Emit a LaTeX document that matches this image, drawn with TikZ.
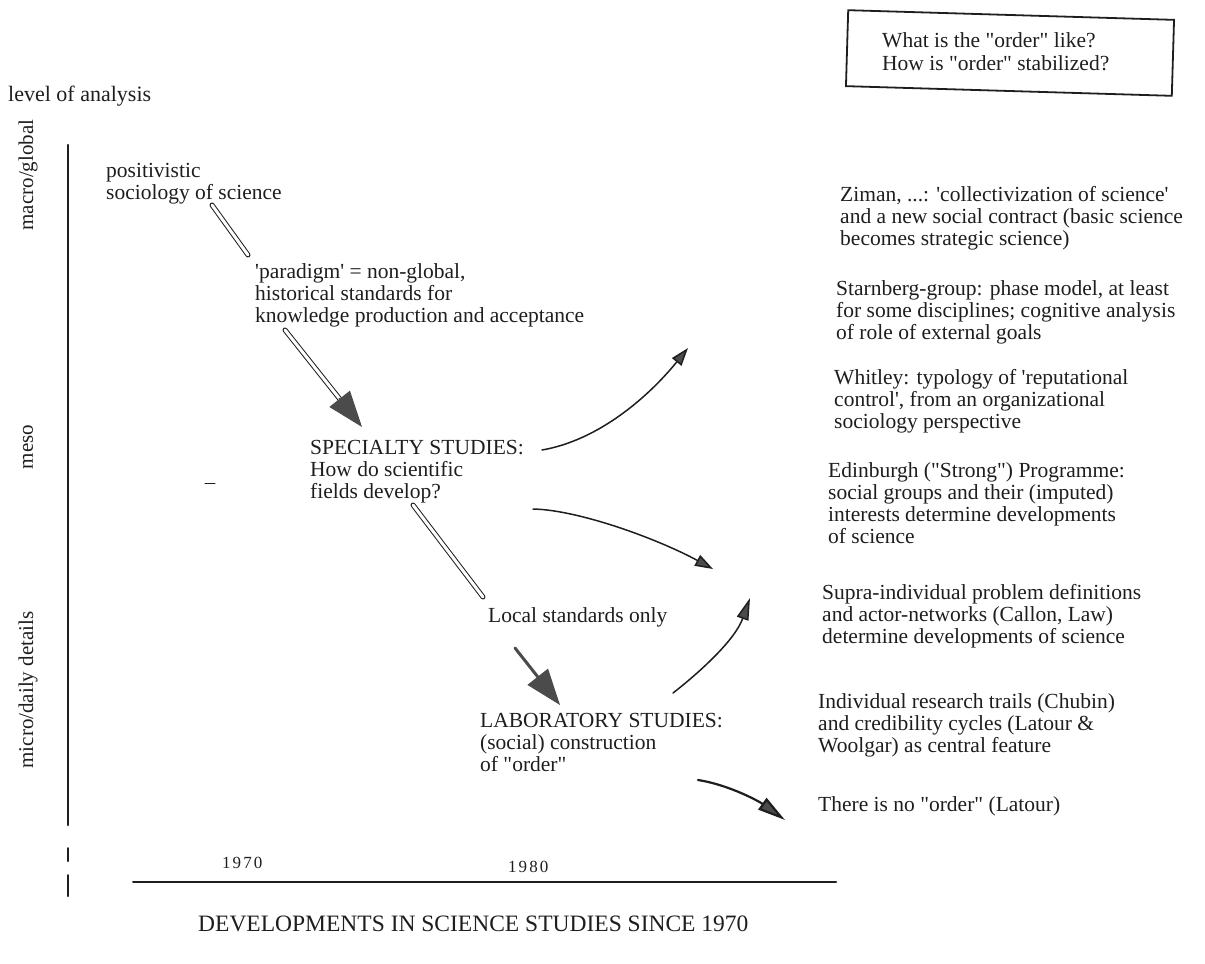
\documentclass[tikz,border=0pt]{standalone}
\usepackage{fontspec}
\setmainfont{Liberation Serif}[Ligatures=TeXOff]
\newfontfamily\spacedfont[LetterSpace=12]{Liberation Serif}
\usepackage{tikz}
\usetikzlibrary{arrows.meta}
\usetikzlibrary{positioning}

\begin{document}
\begin{tikzpicture}[x=1pt,y=-1pt,line cap=round,
	txt/.style={anchor=base west,align=left,inner sep=0pt,font=\fontsize{21.5}{22}\selectfont,text=ink},
	level/.style={rotate=90,inner sep=0pt,font=\fontsize{21}{22}\selectfont,text=ink},
	dbl/.style={draw=ink,line width=1pt,double=white,double distance=3pt},
	bighead/.style={draw=headgray,line width=1pt,-{Triangle[length=36pt,width=26pt,fill=headgray]}},
	curved/.style={draw=ink,line width=1.5pt,-{Triangle[length=18pt,width=12pt,fill=headgray]}}]
	
	\definecolor{ink}{RGB}{30,30,30}
	\definecolor{headgray}{RGB}{75,75,75}
	
	\useasboundingbox (0,0) rectangle (1205,964);
	
	% axes
	\draw[ink,line width=2.5pt] (68,145) -- (68,825);
	\draw[ink,line width=2pt] (68,848) -- (68,861);
	\draw[ink,line width=2pt] (68,875) -- (68,896);
	\draw[ink,line width=2pt] (133,882) -- (836,882);
	\draw[ink,line width=1pt] (205,483) -- (215,483);
	
	\node[txt,font=\fontsize{22}{22}\selectfont] (lev) at (8,101) {level of analysis};
	\node[level] (mac) at (28,175) {macro/global};
	\node[level] (mes) at (28,447) {meso};
	\node[level] (mic) at (28,690) {micro/daily details};
	
	% question box, slightly tilted
	\node[draw=ink,line width=1.8pt,rotate=-1.7,minimum width=326pt,minimum height=76pt] (que) at (1010,53) {};
	\node[align=left,inner sep=0pt,font=\fontsize{21.5}{23}\selectfont,text=ink,anchor=west] (qtxt) at (882,52)
		{What is the "order" like?\\How is "order" stabilized?};
	
	% base west is the last line of each text
	\node[txt] (pos) at (106,199) {positivistic\\sociology of science};
	\node[txt] (par) at (255,322) {'paradigm' = non-global,\\historical standards for\\knowledge production and acceptance};
	\node[txt] (spec) at (310,498) {SPECIALTY STUDIES:\\How do scientific\\fields develop?};
	\node[txt] (loc) at (488,622) {Local standards only};
	\node[txt] (lab) at (480,771) {LABORATORY STUDIES:\\(social) construction\\of "order"};
	
	\node[txt] (zim) at (840,245) {Ziman, ...: 'collectivization of science'\\and a new social contract (basic science\\becomes strategic science)};
	\node[txt] (sta) at (836,339) {Starnberg-group: phase model, at least\\for some disciplines; cognitive analysis\\of role of external goals};
	\node[txt] (whi) at (834,428) {Whitley: typology of 'reputational\\control', from an organizational\\sociology perspective};
	\node[txt] (edi) at (828,543) {Edinburgh ("Strong") Programme:\\social groups and their (imputed)\\interests determine developments\\of science};
	\node[txt] (sup) at (822,643) {Supra-individual problem definitions\\and actor-networks (Callon, Law)\\determine developments of science};
	\node[txt] (ind) at (818,752) {Individual research trails (Chubin)\\and credibility cycles (Latour \&\\Woolgar) as central feature};
	\node[txt] (non) at (818,811) {There is no "order" (Latour)};
	
	\node[txt,font=\spacedfont\fontsize{17}{17}\selectfont] (y70) at (222,868) {1970};
	\node[txt,font=\spacedfont\fontsize{17}{17}\selectfont] (y80) at (508,872) {1980};
	\node[txt,font=\fontsize{23.5}{24}\selectfont] (dev) at (198,931) {DEVELOPMENTS IN SCIENCE STUDIES SINCE 1970};
	
	\coordinate (t1) at (688,348);
	\coordinate (t2) at (713,569);
	\coordinate (t3) at (750,598);
	\coordinate (t4) at (785,820);
	
	\path ([shift={(106,6)}]pos.base west) edge[dbl] ([shift={(-7,-67)}]par.base west);
	\path ([shift={(30,8)}]par.base west) edge[dbl,shorten >=33pt] ([shift={(52,-71)}]spec.base west);
	\path ([shift={(30,8)}]par.base west) edge[bighead,shorten <=87pt] ([shift={(52,-71)}]spec.base west);
	\path ([shift={(103,7)}]spec.base west) edge[dbl] ([shift={(-5,-25)}]loc.base west);
	\path ([shift={(27,26)}]loc.base west) edge[draw=headgray,line width=3pt,shorten >=34pt] ([shift={(80,-66)}]lab.base west);
	\path ([shift={(27,26)}]loc.base west) edge[bighead,shorten <=34pt] ([shift={(80,-66)}]lab.base west);
	
	\draw[curved] ([shift={(232,-48)}]spec.base west) .. controls +(58,-10) and +(-38,47) .. (t1);
	\draw[curved] ([shift={(223,11)}]spec.base west) .. controls +(47,1) and +(-53,-29) .. (t2);
	\draw[curved,-{Triangle[length=22pt,width=12pt,fill=headgray]}] ([shift={(193,-78)}]lab.base west) .. controls +(27,-21) and +(-15,42) .. (t3);
	\draw[curved,line width=2.2pt,-{Triangle[length=28pt,width=14pt,fill=headgray]}] ([shift={(218,9)}]lab.base west) .. controls +(32,5) and +(-25,-18) .. (t4);
\end{tikzpicture}
\end{document}
